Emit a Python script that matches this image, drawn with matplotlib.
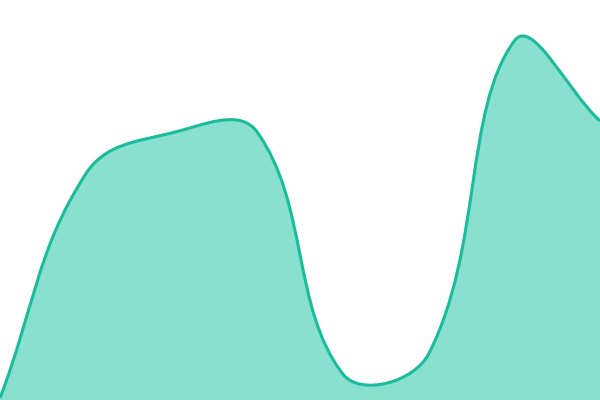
import matplotlib
matplotlib.use('Agg')
import matplotlib.pyplot as plt
import numpy as np
from matplotlib.path import Path
from matplotlib.patches import PathPatch

# Data (y axis 0..400)
labels = ['1', '2', '3', '4', '5', '6', '7', '8']
values = [2, 226, 267, 268, 26, 46, 359, 279]
y_max = 400
tension = 0.4

line_color = '#1abc9c'
fill_color = '#89e0cf'

fig = plt.figure(figsize=(6, 4), dpi=100)
ax = fig.add_axes([0, 0, 1, 1])
ax.set_xlim(0, len(values) - 1)
ax.set_ylim(0, y_max)
ax.axis('off')

# Chart.js-style spline: control points computed in pixel space
pts = ax.transData.transform(np.column_stack([np.arange(len(values)), values]))
n = len(pts)
cp_prev = np.zeros_like(pts)
cp_next = np.zeros_like(pts)
for i in range(n):
    prev = pts[max(i - 1, 0)]
    cur = pts[i]
    nxt = pts[min(i + 1, n - 1)]
    d01 = np.hypot(*(cur - prev))
    d12 = np.hypot(*(nxt - cur))
    tot = d01 + d12
    s01 = d01 / tot if tot else 0
    s12 = d12 / tot if tot else 0
    cp_prev[i] = cur - tension * s01 * (nxt - prev)
    cp_next[i] = cur + tension * s12 * (nxt - prev)

# keep control points inside the chart area
x0, y0 = ax.transData.transform((0, 0))
x1, y1 = ax.transData.transform((n - 1, y_max))
for cp in (cp_prev, cp_next):
    cp[:, 0] = np.clip(cp[:, 0], x0, x1)
    cp[:, 1] = np.clip(cp[:, 1], y0, y1)

inv = ax.transData.inverted()
pts_d = inv.transform(pts)
cpp_d = inv.transform(cp_prev)
cpn_d = inv.transform(cp_next)

verts = [pts_d[0]]
codes = [Path.MOVETO]
for i in range(n - 1):
    verts += [cpn_d[i], cpp_d[i + 1], pts_d[i + 1]]
    codes += [Path.CURVE4] * 3

line_path = Path(verts, codes)
area_path = Path(verts + [(n - 1, 0), (0, 0), (0, 0)],
                 codes + [Path.LINETO, Path.LINETO, Path.CLOSEPOLY])

ax.add_patch(PathPatch(area_path, facecolor=fill_color, edgecolor='none'))
ax.add_patch(PathPatch(line_path, facecolor='none', edgecolor=line_color, linewidth=2.2))

fig.savefig('out.png', dpi=100)
